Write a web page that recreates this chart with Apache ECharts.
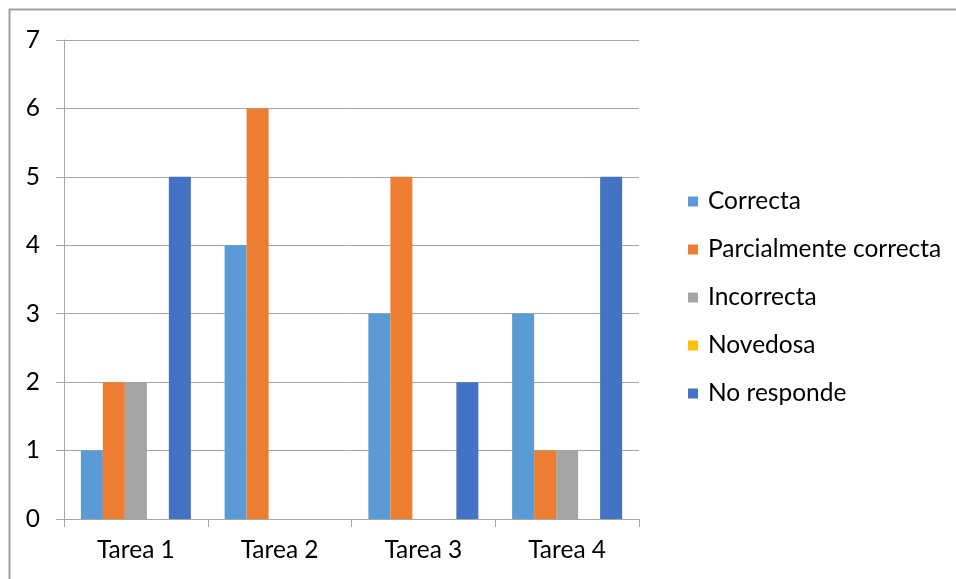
<!DOCTYPE html>
<html>
<head>
<meta charset="utf-8">
<script src="https://cdn.jsdelivr.net/npm/echarts@6/dist/echarts.min.js"></script>
<style>
  html, body { margin: 0; padding: 0; background: #fff; }
  #chart { width: 956px; height: 579px; }
</style>
</head>
<body>
<div id="chart"></div>
<script>
// Categories and results per task
const categories = ['Tarea 1', 'Tarea 2', 'Tarea 3', 'Tarea 4'];
const correcta = [1, 4, 3, 3];
const parcialmenteCorrecta = [2, 6, 5, 1];
const incorrecta = [2, 0, 0, 1];
const novedosa = [0, 0, 0, 0];
const noResponde = [5, 0, 2, 5];
const yTicks = [0, 1, 2, 3, 4, 5, 6, 7];

const seriesDefs = [
  { name: 'Correcta', data: correcta, color: '#5B9BD5' },
  { name: 'Parcialmente correcta', data: parcialmenteCorrecta, color: '#ED7D31' },
  { name: 'Incorrecta', data: incorrecta, color: '#A5A5A5' },
  { name: 'Novedosa', data: novedosa, color: '#FFC000' },
  { name: 'No responde', data: noResponde, color: '#4472C4' }
];

const FONT = 'Lato';
const FS = 24.5;
const GRAY = '#a6a6a6';

const chart = echarts.init(document.getElementById('chart'), null, { renderer: 'canvas' });
chart.setOption({
  animation: false,
  backgroundColor: '#ffffff',
  graphic: [{
    type: 'rect',
    shape: { x: 9.5, y: 9.5, width: 2000, height: 2000 },
    style: { fill: 'none', stroke: '#a0a0a0', lineWidth: 2 },
    silent: true
  }],
  grid: { left: 64, right: 317, top: 40, bottom: 60, containLabel: false },
  legend: {
    orient: 'vertical',
    left: 683,
    top: 184,
    itemWidth: 10,
    itemHeight: 10,
    itemGap: 23,
    icon: 'rect',
    textStyle: { fontFamily: FONT, fontSize: FS, color: '#000', lineHeight: 25, padding: [0, 0, 0, 5] },
    data: seriesDefs.map(s => s.name)
  },
  xAxis: {
    type: 'category',
    data: categories,
    boundaryGap: true,
    axisLine: { show: true, lineStyle: { color: GRAY, width: 1 } },
    axisTick: { show: true, length: 8, lineStyle: { color: GRAY } },
    axisLabel: { fontFamily: FONT, fontSize: FS, color: '#000', margin: 19 }
  },
  yAxis: {
    type: 'value',
    min: yTicks[0],
    max: yTicks[yTicks.length - 1],
    interval: 1,
    axisLine: { show: true, lineStyle: { color: GRAY, width: 1 } },
    axisTick: { show: true, length: 8, lineStyle: { color: GRAY } },
    splitLine: { show: true, lineStyle: { color: GRAY, width: 1 } },
    axisLabel: { fontFamily: FONT, fontSize: FS, color: '#000', margin: 24 }
  },
  series: seriesDefs.map(s => ({
    name: s.name,
    type: 'bar',
    data: s.data,
    barWidth: 22,
    barGap: '0%',
    itemStyle: { color: s.color }
  }))
});
</script>
</body>
</html>
